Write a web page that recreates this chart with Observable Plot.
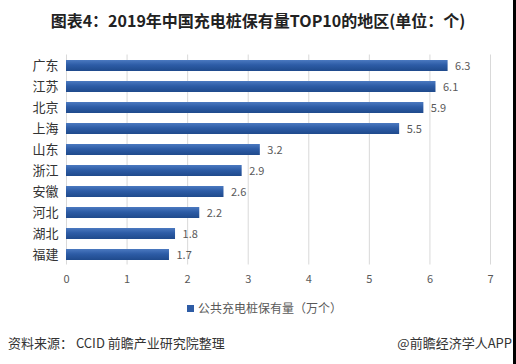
<!DOCTYPE html>
<html>
<head>
<meta charset="utf-8">
<script src="https://cdn.jsdelivr.net/npm/d3@7"></script>
<script src="https://cdn.jsdelivr.net/npm/@observablehq/plot@0.6"></script>
<style>
  html, body { margin: 0; padding: 0; background: #fff; }
  #page { position: relative; width: 516px; height: 364px; overflow: hidden; background: #fff;
          font-family: "Noto Sans CJK SC", "Noto Sans", sans-serif; }
  #edge { position: absolute; right: 0; top: 0; width: 3px; height: 364px; background: #000; }
  #title { position: absolute; left: 0; width: 516px; top: 8px; text-align: center;
           font-size: 16px; font-weight: bold; color: #222; }
  #chart { position: absolute; left: 0; top: 45px; }
  #legend { position: absolute; top: 299px; left: 8px; width: 513px; text-align: center;
            font-size: 12px; color: #595959; }
  #legend .sw { display: inline-block; width: 7px; height: 7px; background: #2e5ca5; margin-right: 4px; vertical-align: 1px; }
  #source { position: absolute; left: 8px; top: 333px; font-size: 13px; color: #333; }
  #brand { position: absolute; right: 4px; top: 333px; font-size: 13px; color: #333; }
</style>
</head>
<body>
<div id="page">
  <div id="title">图表4：2019年中国充电桩保有量TOP10的地区(单位：个)</div>
  <div id="chart"></div>
  <div id="legend"><span class="sw"></span>公共充电桩保有量（万个）</div>
  <div id="source">资料来源： CCID 前瞻产业研究院整理</div>
  <div id="brand">@前瞻经济学人APP</div>
  <div id="edge"></div>
</div>
<script>
const regions = ["广东", "江苏", "北京", "上海", "山东", "浙江", "安徽", "河北", "湖北", "福建"];
const values = [6.3, 6.1, 5.9, 5.5, 3.2, 2.9, 2.6, 2.2, 1.8, 1.7];
const xTicks = [0, 1, 2, 3, 4, 5, 6, 7];

const data = regions.map((r, i) => ({region: r, value: values[i]}));

const chart = Plot.plot({
  width: 513,
  height: 245,
  marginLeft: 66,
  marginRight: 23,
  marginTop: 9.5,
  marginBottom: 25.5,
  style: {fontFamily: '"Noto Sans CJK SC", "Noto Sans", sans-serif', background: "transparent"},
  x: {domain: [0, 7], ticks: xTicks, label: null},
  y: {domain: regions, paddingInner: 0.5, paddingOuter: 0.25, label: null},
  marks: [
    Plot.ruleX(xTicks, {stroke: "#d9d9d9", strokeWidth: 1}),
    Plot.barX(data, {x: "value", y: "region", fill: "url(#barGrad)"}),
    Plot.text(data, {x: "value", y: "region", text: d => d.value.toFixed(1), dx: 7,
                     textAnchor: "start", fontSize: 11, fill: "#595959"}),
    Plot.axisX({ticks: xTicks, tickFormat: d3.format("d"), tickSize: 0, tickPadding: 10,
                fontSize: 11, color: "#595959", label: null}),
    Plot.axisY({tickSize: 0, tickPadding: 8, fontSize: 13, color: "#333", label: null})
  ]
});

const svg = d3.select(chart);
const defs = svg.insert("defs", ":first-child");
const g = defs.append("linearGradient").attr("id", "barGrad")
  .attr("x1", 0).attr("y1", 0).attr("x2", 0).attr("y2", 1);
g.append("stop").attr("offset", "0%").attr("stop-color", "#4b79c0");
g.append("stop").attr("offset", "45%").attr("stop-color", "#2d5ca6");
g.append("stop").attr("offset", "100%").attr("stop-color", "#1f4a8c");

document.getElementById("chart").appendChild(chart);
</script>
</body>
</html>
